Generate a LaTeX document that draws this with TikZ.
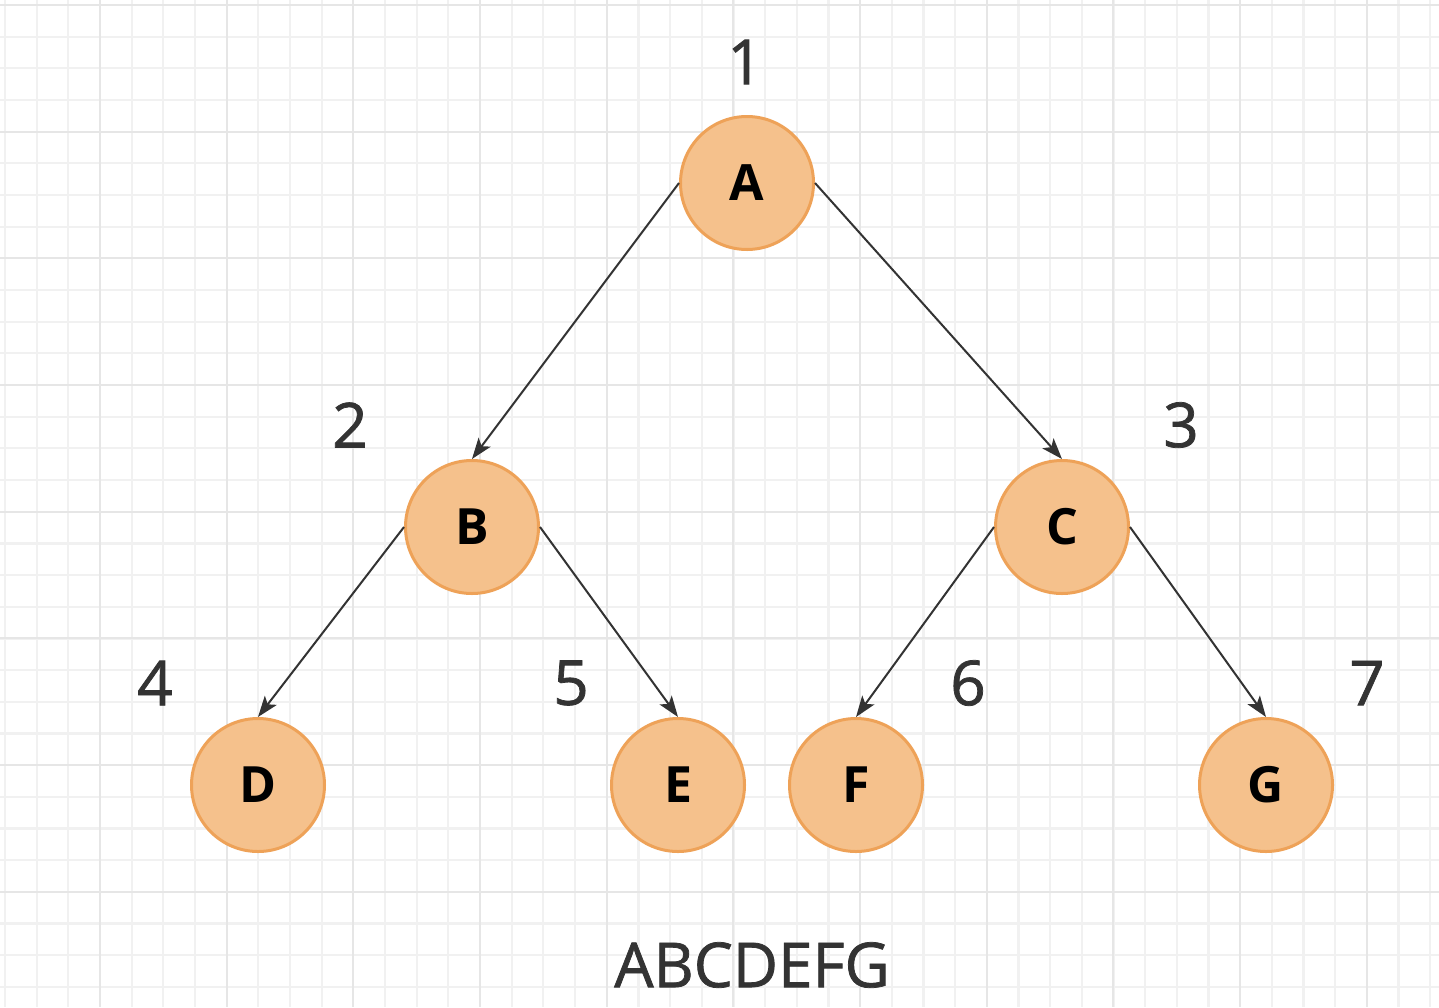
\documentclass[tikz,border=0pt]{standalone}
\usepackage{fontspec}
\setmainfont{Open Sans}
\newfontfamily\numfont[FakeBold=1.2]{Open Sans}
\usetikzlibrary{arrows.meta}
\definecolor{nodefill}{RGB}{245,193,140}
\definecolor{nodeline}{RGB}{238,162,88}
\definecolor{minorgrid}{RGB}{241,241,241}
\definecolor{majorgrid}{RGB}{230,230,230}
\definecolor{txt}{RGB}{51,51,51}
\begin{document}
\begin{tikzpicture}[x=1pt,y=-1pt,
  treenode/.style={circle,draw=nodeline,line width=3pt,fill=nodefill,minimum size=133pt,inner sep=0pt,font=\fontsize{50}{50}\selectfont\bfseries,text=black},
  numlabel/.style={font=\fontsize{62}{62}\selectfont\numfont,text=txt,inner sep=0pt},
  edge/.style={draw=txt,line width=2pt,-{Stealth[length=21pt,width=15pt,inset=5pt]}}]
\useasboundingbox (0,0) rectangle (1439,1007);
\fill[white] (0,0) rectangle (1439,1007);
% grid
\foreach \k in {0,...,45}{
  \pgfmathsetmacro{\p}{5+31.67*\k}
  \draw[minorgrid,line width=2.2pt] (\p,0) -- (\p,1007);
  \draw[minorgrid,line width=2.2pt] (0,\p) -- (1439,\p);
}
\foreach \k in {0,...,11}{
  \pgfmathsetmacro{\px}{100+126.67*\k}
  \pgfmathsetmacro{\py}{5+126.67*\k}
  \draw[majorgrid,line width=2.2pt] (\px,0) -- (\px,1007);
  \draw[majorgrid,line width=2.2pt] (0,\py) -- (1439,\py);
}
% nodes
\node[treenode] (A) at (747,183) {A};
\node[treenode] (B) at (472,527) {B};
\node[treenode] (C) at (1062,527) {C};
\node[treenode] (D) at (258,785) {D};
\node[treenode] (E) at (678,785) {E};
\node[treenode] (F) at (856,785) {F};
\node[treenode] (G) at (1266,785) {G};
% edges
\draw[edge] (A.west) -- (B.north);
\draw[edge] (A.east) -- (C.north);
\draw[edge] (B.west) -- (D.north);
\draw[edge] (B.east) -- (E.north);
\draw[edge] (C.west) -- (F.north);
\draw[edge] (C.east) -- (G.north);
% labels
\node[numlabel] (n1) at (745,62) {1};
\node[numlabel] (n2) at (350,425) {2};
\node[numlabel] (n3) at (1181,425) {3};
\node[numlabel] (n4) at (155,683) {4};
\node[numlabel] (n5) at (571,683) {5};
\node[numlabel] (n6) at (968,683) {6};
\node[numlabel] (n7) at (1367,683) {7};
\node[numlabel] (seq) at (752,965) {ABCDEFG};
\end{tikzpicture}
\end{document}
